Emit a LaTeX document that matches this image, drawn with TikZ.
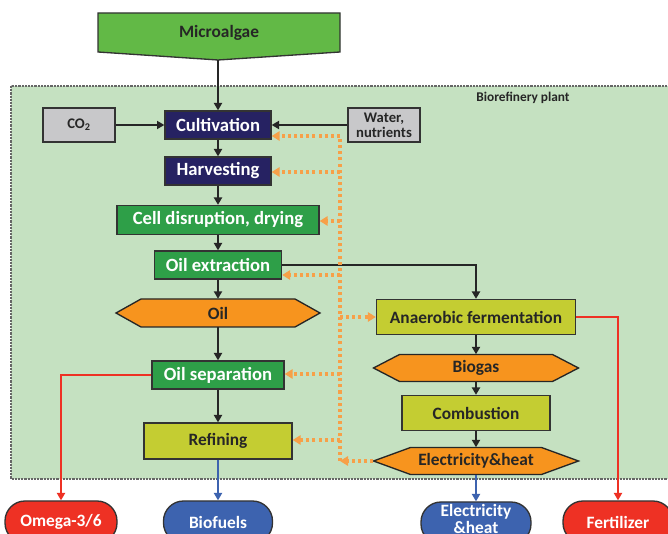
\documentclass[tikz,border=0pt]{standalone}
\usepackage{fontspec}
\setmainfont{Carlito}
\usetikzlibrary{arrows.meta}
\definecolor{bgg}{HTML}{C5E1C1}
\definecolor{algc}{HTML}{62B946}
\definecolor{navyc}{HTML}{262262}
\definecolor{grnc}{HTML}{2E9F48}
\definecolor{orc}{HTML}{F7941E}
\definecolor{ygc}{HTML}{C4CD32}
\definecolor{greyc}{HTML}{C8C8CA}
\definecolor{redc}{HTML}{EE3124}
\definecolor{bluec}{HTML}{3D63AF}
\definecolor{dotc}{HTML}{F7A048}
\newcommand\hexa[7]{%
  \fill[orc] ({#2-#4/2},#3) -- ({#2-#4/2+#6},{#3-#5/2}) -- ({#2+#4/2-#6},{#3-#5/2}) -- ({#2+#4/2},#3) -- ({#2+#4/2-#6},{#3+#5/2}) -- ({#2-#4/2+#6},{#3+#5/2}) -- cycle;
  \draw[draw=black!85, line width=1pt] ({#2-#4/2},#3) -- ({#2-#4/2+#6},{#3-#5/2}) -- ({#2+#4/2-#6},{#3-#5/2}) -- ({#2+#4/2},#3) -- ({#2+#4/2-#6},{#3+#5/2}) -- ({#2-#4/2+#6},{#3+#5/2}) -- cycle;
  \node[hexs, bsz={#4}{#5}] (#1) at (#2,#3) {#7};%
}
\begin{document}
\begin{tikzpicture}[x=0.75pt,y=-0.75pt,
  bsz/.style 2 args={minimum width=#1*0.75pt, minimum height=#2*0.75pt},
  base/.style={draw=black!80, line width=1pt, inner sep=0pt, align=center},
  navybox/.style={base, fill=navyc, text=white, font=\bfseries\fontsize{14}{16}\selectfont},
  grnbox/.style={base, fill=grnc, text=white, font=\bfseries\fontsize{14}{16}\selectfont},
  ygbox/.style={base, fill=ygc, text=black!85, font=\bfseries\fontsize{13}{15}\selectfont},
  greybox/.style={base, fill=greyc, text=black!85, font=\bfseries\fontsize{11}{11.5}\selectfont},
  hexs/.style={inner sep=0pt, align=center, text=black!85, font=\bfseries\fontsize{13}{15}\selectfont},
  outred/.style={base, fill=redc, text=white, rounded corners=15pt, font=\bfseries\fontsize{13}{14}\selectfont},
  outblue/.style={base, fill=bluec, text=white, rounded corners=15pt, font=\bfseries\fontsize{13}{14}\selectfont},
  blk/.style={draw=black!85, line width=2pt, -{Triangle[length=5.5pt,width=6pt]}},
  redl/.style={draw=redc, line width=2pt, -{Triangle[length=5.5pt,width=6pt]}},
  bluel/.style={draw=bluec, line width=2pt, -{Triangle[length=5.5pt,width=6pt]}},
  odot/.style={draw=dotc, line width=2.3pt, dash pattern=on 2.3pt off 2.3pt},
  odota/.style={odot, -{Triangle[length=6pt,width=7pt,fill=dotc,sep=0pt]}},
]
\useasboundingbox (0,0) rectangle (668,534);
% biorefinery region
\draw[fill=bgg, draw=black!60, line width=0.9pt, dash pattern=on 1.6pt off 0.8pt] (11,86) rectangle (690,479);
\node[font=\bfseries\fontsize{10}{12}\selectfont, text=black!85] (plant) at (523,98) {Biorefinery plant};
% microalgae
\draw[fill=algc, draw=black!80, line width=1pt] (98,13) -- (340,13) -- (340,52) -- (218,60) -- (98,52) -- cycle;
\node[font=\bfseries\fontsize{13}{15}\selectfont, text=black!85] (micro) at (219,33) {Microalgae};
\coordinate (microtip) at (218,60);
% process boxes
\node[greybox, bsz={72}{34}] (co2) at (79,125) {CO\textsubscript{2}};
\node[navybox, bsz={106}{28}] (cult) at (218,125) {Cultivation};
\node[greybox, bsz={72}{34}] (water) at (384,125) {Water,\\nutrients};
\node[navybox, bsz={106}{28}] (harv) at (218,171) {Harvesting};
\node[grnbox, bsz={202}{29}] (cell) at (218,220) {Cell disruption, drying};
\node[grnbox, bsz={127}{28}] (oilx) at (218,265) {Oil extraction};
\hexa{oil}{218}{313}{204}{28}{25}{Oil}
\node[grnbox, bsz={132}{28}] (oils) at (218,375) {Oil separation};
\node[ygbox, bsz={148}{36}] (ref) at (218,441) {Refining};
\node[ygbox, bsz={199}{35}] (anf) at (476,317) {Anaerobic fermentation};
\hexa{biog}{476}{368}{205}{27}{26}{Biogas}
\node[ygbox, bsz={148}{35}] (comb) at (476,413) {Combustion};
\hexa{elh}{476}{461}{205}{27}{37}{Electricity\&heat}
% outputs
\node[outred, bsz={112}{42}] (omega) at (61,522) {Omega-3/6};
\node[outblue, bsz={109}{42}] (biof) at (218,522) {Biofuels};
\node[outblue, bsz={110}{42}] (eout) at (476,523) {};
\node[text=white, align=center, inner sep=0pt, font=\bfseries\fontsize{13}{14}\selectfont] (eoutt) at (476,519) {Electricity\\[-1pt]\&heat};
\node[outred, bsz={110}{42}] (fert) at (618,522) {Fertilizer};
% black arrows
\draw[blk] (microtip) -- (cult.north);
\draw[blk] (co2) -- (cult);
\draw[blk] (water) -- (cult);
\draw[blk] (cult) -- (harv);
\draw[blk] (harv) -- (cell);
\draw[blk] (cell) -- (oilx);
\draw[blk] (oilx) -- (oil);
\draw[blk] (oil) -- (oils);
\draw[blk] (oils) -- (ref);
\draw[blk] (oilx.east) -| (anf.north);
\draw[blk] (anf) -- (biog);
\draw[blk] (biog) -- (comb);
\draw[blk] (comb) -- (elh);
% red and blue
\draw[redl] (oils.west) -| (omega.north);
\draw[redl] (anf.east) -| (fert.north);
\draw[bluel] (ref) -- (biof);
\draw[bluel] (elh) -- (eout);
% orange dotted energy bus
\coordinate (b1) at (340,136);
\coordinate (b2) at (340,172);
\coordinate (b3) at (340,221);
\coordinate (b4) at (340,275);
\coordinate (b5) at (340,317);
\coordinate (b6) at (340,374);
\coordinate (b7) at (340,440);
\coordinate (b8) at (340,461);
\draw[odot] (b8) -- (b1);
\draw[odota] (elh.west) -- (b8);
\draw[odota] (b1) -- (b1 -| cult.east);
\draw[odota] (b2) -- (b2 -| harv.east);
\draw[odota] (b3) -- (b3 -| cell.east);
\draw[odota] (b4) -- (b4 -| oilx.east);
\draw[odota] (b5) -- (anf.west);
\draw[odota] (b6) -- (b6 -| oils.east);
\draw[odota] (b7) -- (b7 -| ref.east);
\end{tikzpicture}
\end{document}
